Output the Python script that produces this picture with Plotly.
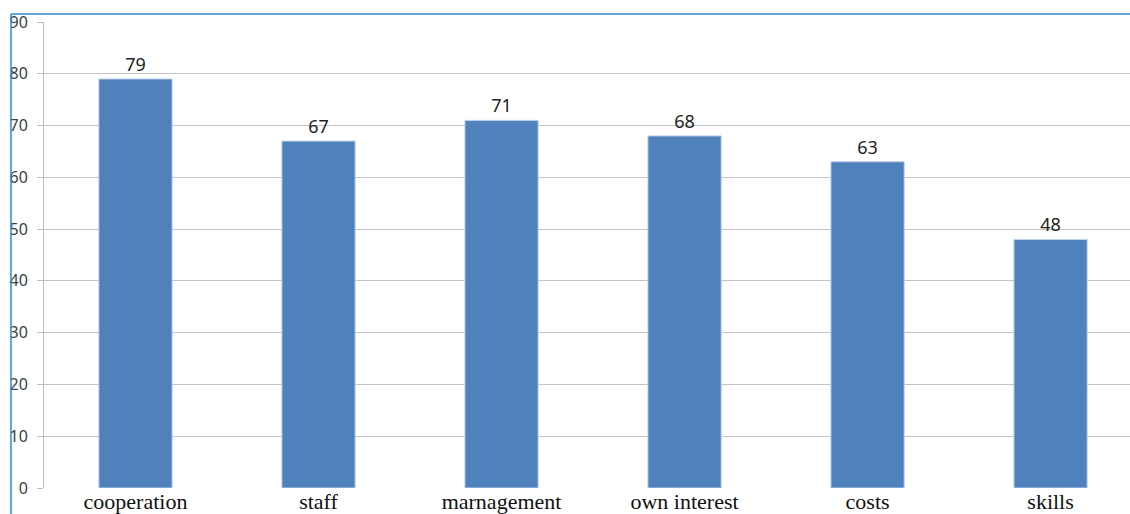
import plotly.graph_objects as go

categories = ["cooperation", "staff", "marnagement", "own interest", "costs", "skills"]
values = [79, 67, 71, 68, 63, 48]
y_ticks = [0, 10, 20, 30, 40, 50, 60, 70, 80, 90]

fig = go.Figure(
    go.Bar(
        x=categories,
        y=values,
        width=0.4,
        marker=dict(color="#4f81bd", line=dict(color="#bcd0ea", width=1)),
        text=[str(v) for v in values],
        textposition="outside",
        textfont=dict(family="Noto Sans, Open Sans, sans-serif", size=18, color="#222222"),
        cliponaxis=False,
    )
)

fig.update_layout(
    width=1130,
    height=514,
    margin=dict(l=44, r=0, t=22, b=26),
    paper_bgcolor="white",
    plot_bgcolor="white",
    showlegend=False,
    bargap=0.6,
    xaxis=dict(
        range=[-0.5, 5.434],
        showgrid=False,
        showline=False,
        ticks="",
        ticklabelstandoff=-2,
        tickfont=dict(family="Liberation Serif, Times New Roman, serif", size=22, color="#111111"),
    ),
    yaxis=dict(
        range=[0, 90],
        tickvals=y_ticks,
        showgrid=True,
        gridcolor="#c4c4c4",
        gridwidth=1,
        showline=True,
        linecolor="#bfbfbf",
        linewidth=1,
        ticks="outside",
        ticklen=6,
        tickcolor="#bfbfbf",
        ticklabelstandoff=6,
        zeroline=False,
        tickfont=dict(family="Noto Sans, Open Sans, sans-serif", size=16, color="#404040"),
    ),
    shapes=[
        dict(type="line", xref="paper", yref="paper",
             x0=-33 / 1086, x1=1.0, y0=8 / 466 + 1, y1=8 / 466 + 1,
             line=dict(color="#2b8ad6", width=1.5)),
        dict(type="line", xref="paper", yref="paper",
             x0=-33 / 1086, x1=-33 / 1086, y0=-26 / 466, y1=8 / 466 + 1,
             line=dict(color="#2b8ad6", width=1.5)),
    ],
)

fig.write_html("out.html")
